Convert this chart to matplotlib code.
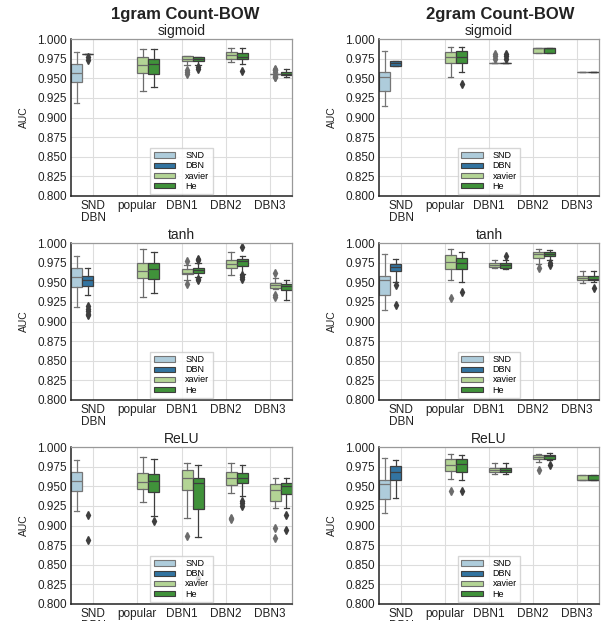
import colorsys
import matplotlib
matplotlib.use("Agg")
import matplotlib.pyplot as plt
from matplotlib.patches import Patch

plt.rcParams["font.family"] = ["Liberation Sans", "DejaVu Sans"]

groups = ["SND\nDBN", "popular", "DBN1", "DBN2", "DBN3"]
hues = ["SND", "DBN", "xavier", "He"]
base_colors = ["#a6cee3", "#1f78b4", "#b2df8a", "#33a02c"]
col_titles = ["1gram Count-BOW", "2gram Count-BOW"]
row_titles = ["sigmoid", "tanh", "ReLU"]
yticks = [0.800, 0.825, 0.850, 0.875, 0.900, 0.925, 0.950, 0.975, 1.000]

# (group, hue, whislo, q1, med, q3, whishi, fliers)
uni_sigmoid = [
    ("SND\nDBN", "SND", 0.918, 0.945, 0.957, 0.968, 0.984, []),
    ("SND\nDBN", "DBN", 0.981, 0.981, 0.981, 0.981, 0.981, [0.977, 0.973]),
    ("popular", "xavier", 0.934, 0.957, 0.967, 0.977, 0.987, []),
    ("popular", "He", 0.939, 0.956, 0.968, 0.975, 0.987, []),
    ("DBN1", "xavier", 0.967, 0.972, 0.975, 0.978, 0.978, [0.961, 0.958, 0.955]),
    ("DBN1", "He", 0.967, 0.972, 0.975, 0.977, 0.977, [0.964, 0.962]),
    ("DBN2", "xavier", 0.971, 0.974, 0.979, 0.983, 0.988, []),
    ("DBN2", "He", 0.968, 0.974, 0.977, 0.982, 0.988, [0.959]),
    ("DBN3", "xavier", 0.956, 0.956, 0.956, 0.956, 0.956,
     [0.962, 0.961, 0.960, 0.958, 0.953, 0.952, 0.951]),
    ("DBN3", "He", 0.952, 0.954, 0.956, 0.958, 0.962, []),
]

bi_sigmoid = [
    ("SND\nDBN", "SND", 0.915, 0.934, 0.952, 0.958, 0.985, []),
    ("SND\nDBN", "DBN", 0.966, 0.966, 0.969, 0.972, 0.972, []),
    ("popular", "xavier", 0.951, 0.969, 0.977, 0.984, 0.990, []),
    ("popular", "He", 0.958, 0.969, 0.977, 0.985, 0.990, [0.943]),
    ("DBN1", "xavier", 0.970, 0.970, 0.970, 0.970, 0.970, [0.981, 0.978, 0.974]),
    ("DBN1", "He", 0.970, 0.970, 0.970, 0.970, 0.970, [0.981, 0.978, 0.974]),
    ("DBN2", "xavier", 0.9825, 0.9825, 0.989, 0.989, 0.989, []),
    ("DBN2", "He", 0.9825, 0.9825, 0.989, 0.989, 0.989, []),
    ("DBN3", "xavier", 0.958, 0.958, 0.958, 0.958, 0.958, []),
    ("DBN3", "He", 0.958, 0.958, 0.958, 0.958, 0.958, []),
]

uni_tanh = [
    ("SND\nDBN", "SND", 0.918, 0.944, 0.957, 0.968, 0.984, []),
    ("SND\nDBN", "DBN", 0.934, 0.945, 0.9525, 0.958, 0.968,
     [0.9195, 0.9165, 0.913, 0.910, 0.908]),
    ("popular", "xavier", 0.931, 0.9555, 0.964, 0.975, 0.992, []),
    ("popular", "He", 0.936, 0.954, 0.967, 0.974, 0.988, []),
    ("DBN1", "xavier", 0.9525, 0.960, 0.962, 0.9665, 0.9716, [0.9775, 0.948]),
    ("DBN1", "He", 0.957, 0.962, 0.965, 0.968, 0.974, [0.980, 0.978, 0.9547, 0.9525]),
    ("DBN2", "xavier", 0.959, 0.968, 0.9737, 0.978, 0.9886, []),
    ("DBN2", "He", 0.961, 0.9708, 0.9767, 0.979, 0.984, [0.995, 0.959, 0.957, 0.9547]),
    ("DBN3", "xavier", 0.942, 0.943, 0.946, 0.949, 0.956, [0.962, 0.9335, 0.931]),
    ("DBN3", "He", 0.928, 0.940, 0.945, 0.948, 0.9525, []),
]

bi_tanh = [
    ("SND\nDBN", "SND", 0.915, 0.9335, 0.9525, 0.9576, 0.9864, []),
    ("SND\nDBN", "DBN", 0.9504, 0.964, 0.9695, 0.9737, 0.979, [0.946, 0.921]),
    ("popular", "xavier", 0.953, 0.967, 0.9758, 0.985, 0.992, [0.9305]),
    ("popular", "He", 0.9504, 0.967, 0.9745, 0.9814, 0.9886, [0.937]),
    ("DBN1", "xavier", 0.968, 0.9695, 0.9716, 0.9746, 0.978, []),
    ("DBN1", "He", 0.9665, 0.9686, 0.9716, 0.9746, 0.978, [0.9835]),
    ("DBN2", "xavier", 0.9737, 0.981, 0.9856, 0.9886, 0.992, [0.9686]),
    ("DBN2", "He", 0.978, 0.9835, 0.9864, 0.9886, 0.9907, [0.9746, 0.9725]),
    ("DBN3", "xavier", 0.949, 0.9525, 0.9555, 0.958, 0.9644, []),
    ("DBN3", "He", 0.9504, 0.9525, 0.9547, 0.958, 0.9644, [0.943]),
]

uni_relu = [
    ("SND\nDBN", "SND", 0.918, 0.944, 0.9564, 0.968, 0.983, []),
    ("SND\nDBN", "DBN", 0.48, 0.50, 0.51, 0.52, 0.55, [0.913, 0.881]),
    ("popular", "xavier", 0.9297, 0.9466, 0.9555, 0.967, 0.9877, []),
    ("popular", "He", 0.912, 0.9428, 0.9568, 0.9653, 0.985, [0.9055]),
    ("DBN1", "xavier", 0.909, 0.945, 0.961, 0.9704, 0.980, [0.887]),
    ("DBN1", "He", 0.8856, 0.9208, 0.954, 0.9606, 0.9776, [0.833]),
    ("DBN2", "xavier", 0.942, 0.9513, 0.961, 0.968, 0.9797, [0.910, 0.908]),
    ("DBN2", "He", 0.9373, 0.9542, 0.961, 0.967, 0.9776, [0.9313, 0.9288, 0.925]),
    ("DBN3", "xavier", 0.9217, 0.9313, 0.945, 0.9526, 0.961, [0.8962, 0.8843]),
    ("DBN3", "He", 0.9217, 0.9407, 0.9504, 0.9542, 0.961, [0.9132, 0.894]),
]

bi_relu = [
    ("SND\nDBN", "SND", 0.916, 0.9339, 0.9534, 0.9577, 0.986, []),
    ("SND\nDBN", "DBN", 0.9344, 0.9585, 0.9682, 0.9758, 0.983, []),
    ("popular", "xavier", 0.9598, 0.9695, 0.9776, 0.9843, 0.9915, [0.9437]),
    ("popular", "He", 0.9585, 0.9682, 0.9788, 0.9852, 0.9894, [0.9437]),
    ("DBN1", "xavier", 0.9653, 0.9682, 0.9712, 0.9733, 0.980, []),
    ("DBN1", "He", 0.966, 0.9682, 0.9704, 0.9737, 0.980, []),
    ("DBN2", "xavier", 0.981, 0.9843, 0.9873, 0.9894, 0.9915, [0.9712]),
    ("DBN2", "He", 0.983, 0.9852, 0.9882, 0.9894, 0.9928, [0.9776]),
    ("DBN3", "xavier", 0.958, 0.958, 0.958, 0.9649, 0.9649, []),
    ("DBN3", "He", 0.958, 0.958, 0.958, 0.9649, 0.9649, []),
]

panels = [[uni_sigmoid, bi_sigmoid], [uni_tanh, bi_tanh], [uni_relu, bi_relu]]


def desaturate(color, prop=0.75):
    r, g, b = matplotlib.colors.to_rgb(color)
    h, l, s = colorsys.rgb_to_hls(r, g, b)
    return colorsys.hls_to_rgb(h, l, s * prop)


fills = {h: desaturate(c) for h, c in zip(hues, base_colors)}
lines = {}
for h, c in zip(hues, base_colors):
    lum = colorsys.rgb_to_hls(*matplotlib.colors.to_rgb(c))[1] * 0.6
    lines[h] = (lum, lum, lum)
offsets = {"SND": -0.375, "DBN": -0.125, "xavier": 0.125, "He": 0.375}

fig = plt.figure(figsize=(6.04, 6.21), dpi=100)
lefts = [71 / 604, 379 / 604]
widths = [221 / 604, 220 / 604]
bottoms = [1 - 196 / 621, 1 - 400 / 621, 1 - 604 / 621]
height = 157 / 621

for r in range(3):
    for c in range(2):
        ax = fig.add_axes([lefts[c], bottoms[r], widths[c], height])
        ax.set_axisbelow(True)
        ax.grid(True, color="#dddddd", linewidth=0.8)
        for g, h, lo, q1, med, q3, hi, fl in panels[r][c]:
            pos = groups.index(g) + offsets[h]
            stats = [dict(med=med, q1=q1, q3=q3, whislo=lo, whishi=hi, fliers=fl)]
            lc = lines[h]
            ax.bxp(stats, positions=[pos], widths=0.25, patch_artist=True,
                   boxprops=dict(facecolor=fills[h], edgecolor=lc, linewidth=0.9),
                   medianprops=dict(color=lc, linewidth=0.9),
                   whiskerprops=dict(color=lc, linewidth=0.9),
                   capprops=dict(color=lc, linewidth=0.9),
                   flierprops=dict(marker="d", markerfacecolor=lc,
                                   markeredgecolor=lc, markersize=4))
        ax.set_xlim(-0.5, 4.5)
        ax.set_ylim(0.8, 1.0)
        ax.set_xticks(range(len(groups)))
        ax.set_xticklabels(groups, fontsize=8.5, color="#222222", linespacing=0.95)
        ax.set_yticks(yticks)
        ax.set_yticklabels([f"{v:.3f}" for v in yticks], fontsize=8.5, color="#222222")
        ax.tick_params(length=0, pad=3)
        ax.set_ylabel("AUC", fontsize=7.5, color="#222222", labelpad=6)
        ax.set_title(row_titles[r], fontsize=10, color="#222222", pad=3)
        for side in ["left", "bottom"]:
            ax.spines[side].set_color("#222222")
            ax.spines[side].set_linewidth(1.1)
        for side in ["top", "right"]:
            ax.spines[side].set_color("#999999")
            ax.spines[side].set_linewidth(0.9)
        handles = [Patch(facecolor=fills[h], edgecolor=lines[h], linewidth=0.8, label=h)
                   for h in hues]
        ax.legend(handles=handles, loc="lower center", fontsize=6.5, handlelength=2.4,
                  handleheight=0.55, labelspacing=0.12, borderpad=0.35,
                  handletextpad=1.1, borderaxespad=0.25, edgecolor="#cccccc",
                  fancybox=False)

fig.text(185 / 604, 1 - 14 / 621, col_titles[0], ha="center", va="center",
         fontsize=12, fontweight="bold", color="#222222")
fig.text(500 / 604, 1 - 14 / 621, col_titles[1], ha="center", va="center",
         fontsize=12, fontweight="bold", color="#222222")

fig.savefig("out.png", dpi=100)
